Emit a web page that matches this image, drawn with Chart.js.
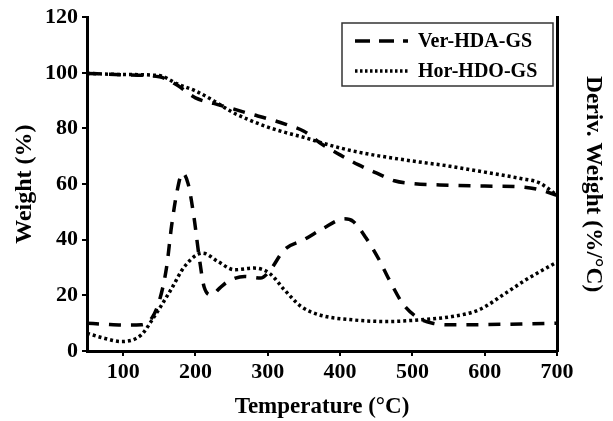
<!DOCTYPE html>
<html>
<head>
<meta charset="utf-8">
<script src="https://cdn.jsdelivr.net/npm/chart.js@4.4.0/dist/chart.umd.min.js"></script>
<style>
    html, body { margin: 0; padding: 0; background: #fff; }
    #wrap { width: 613px; height: 421px; position: relative; }
</style>
</head>
<body>
<div id="wrap"><canvas id="tgaChart"></canvas></div>
<script>
// 温度刻度
const xTicks = [100, 200, 300, 400, 500, 600, 700];

// Ver-HDA-GS 失重曲线 (TGA)
const verTgaTemp = [50, 100, 150, 175, 200, 225, 250, 275, 300, 325, 350, 375, 400, 425, 450, 475, 500, 550, 600, 650, 675, 700];
const verTgaWeight = [99.8, 99.3, 98.6, 95.5, 91, 89, 87.2, 85.3, 83.5, 81.5, 79, 74.3, 70.5, 67, 64, 61.2, 60.2, 59.6, 59.3, 59, 58, 56];

// Hor-HDO-GS 失重曲线 (TGA)
const horTgaTemp = [50, 100, 150, 175, 200, 225, 250, 275, 300, 325, 350, 375, 400, 425, 450, 500, 550, 600, 650, 675, 700];
const horTgaWeight = [99.8, 99.4, 99, 96, 93.5, 90, 86, 83, 80.5, 78.5, 76.8, 74.8, 73, 71.5, 70.3, 68.3, 66.5, 64.3, 62, 60.5, 56];

// Ver-HDA-GS 微分曲线 (DTG)
const verDtgTemp = [50, 75, 100, 125, 140, 150, 160, 167, 175, 182, 190, 198, 205, 212, 222, 235, 245, 268, 290, 302, 323, 350, 376, 406, 418, 436, 454, 468, 486, 505, 528, 555, 600, 650, 700];
const verDtgValue = [10, 9.6, 9.3, 9.4, 12, 18, 30, 45, 58, 64, 60, 48, 34, 23, 20.2, 23, 25, 26.8, 26.2, 28.6, 36.4, 40, 44, 47.5, 46.6, 40.6, 32.8, 25.6, 17.3, 12.4, 10, 9.4, 9.5, 9.7, 10];

// Hor-HDO-GS 微分曲线 (DTG)
const horDtgTemp = [50, 75, 97, 125, 143, 166, 185, 210, 231, 254, 281, 302, 323, 346, 371, 417, 464, 510, 555, 592, 629, 657, 700];
const horDtgValue = [6.4, 4.5, 3.4, 5.8, 12.4, 22, 30.4, 35.2, 32.2, 29.2, 29.8, 28, 22, 16, 13, 11.2, 10.6, 11.2, 12.4, 14.8, 20.8, 25.6, 32];

const seriesNames = ['Ver-HDA-GS', 'Hor-HDO-GS'];

const DASH = [12, 10];
const DOT = [3, 3];
const FONT = 'Liberation Serif, Times New Roman, serif';

function toPoints(xs, ys) {
    return xs.map((x, i) => ({ x: x, y: ys[i] }));
}

function lineSet(label, xs, ys, dash, showInLegend) {
    return {
        label: label,
        data: toPoints(xs, ys),
        borderColor: '#000',
        backgroundColor: '#000',
        borderWidth: 3.5,
        borderDash: dash,
        borderCapStyle: 'butt',
        pointRadius: 0,
        cubicInterpolationMode: 'monotone',
        fill: false,
        inLegend: showInLegend
    };
}

// 图例（带边框，画在绘图区右上角）
const boxLegend = {
    id: 'boxLegend',
    afterDraw(chart) {
        const ctx = chart.ctx;
        const left = 342, top = 23, w = 211, h = 63;
        ctx.save();
        ctx.setLineDash([]);
        ctx.lineWidth = 1.5;
        ctx.strokeStyle = '#333';
        ctx.strokeRect(left, top, w, h);
        const rows = chart.data.datasets.filter(d => d.inLegend);
        rows.forEach((ds, i) => {
            const y = top + 18 + i * 30;
            ctx.beginPath();
            ctx.lineWidth = ds.borderWidth;
            ctx.setLineDash(ds.label === seriesNames[0] ? [15, 9] : [2.5, 2.5]);
            ctx.moveTo(355, y);
            ctx.lineTo(408, y);
            ctx.strokeStyle = '#000';
            ctx.stroke();
            ctx.setLineDash([]);
            ctx.fillStyle = '#000';
            ctx.font = 'bold 20px ' + FONT;
            ctx.textBaseline = 'middle';
            ctx.fillText(ds.label, 418, y + 1);
        });
        ctx.restore();
    }
};

const ctx = document.getElementById('tgaChart').getContext('2d');
const tgaChart = new Chart(ctx, {
    type: 'line',
    data: {
        datasets: [
            lineSet(seriesNames[0], verTgaTemp, verTgaWeight, DASH, true),
            lineSet(seriesNames[1], horTgaTemp, horTgaWeight, DOT, true),
            lineSet(seriesNames[0] + ' DTG', verDtgTemp, verDtgValue, DASH, false),
            lineSet(seriesNames[1] + ' DTG', horDtgTemp, horDtgValue, DOT, false)
        ]
    },
    options: {
        responsive: true,
        maintainAspectRatio: false,
        animation: false,
        layout: {
            padding: { top: 13 }
        },
        plugins: {
            legend: { display: false },
            tooltip: { enabled: false }
        },
        scales: {
            x: {
                type: 'linear',
                min: 50,
                max: 700,
                afterBuildTicks: scale => {
                    scale.ticks = xTicks.map(v => ({ value: v }));
                },
                afterFit: scale => { scale.height = 70; },
                grid: {
                    drawOnChartArea: false,
                    drawTicks: true,
                    tickLength: 5,
                    color: '#000',
                    lineWidth: 2
                },
                border: { display: true, color: '#000', width: 3 },
                ticks: {
                    color: '#000',
                    padding: 3,
                    maxRotation: 0,
                    font: { family: FONT, size: 22, weight: 'bold' }
                },
                title: {
                    display: true,
                    text: 'Temperature (\u00B0C)',
                    color: '#000',
                    padding: { top: 0, bottom: 0 },
                    font: { family: FONT, size: 23, weight: 'bold' }
                }
            },
            y: {
                min: 0,
                max: 120,
                afterFit: scale => { scale.width = 87; },
                grid: {
                    drawOnChartArea: false,
                    drawTicks: true,
                    tickLength: 5,
                    color: '#000',
                    lineWidth: 2
                },
                border: { display: true, color: '#000', width: 3 },
                ticks: {
                    stepSize: 20,
                    color: '#000',
                    padding: 4,
                    font: { family: FONT, size: 22, weight: 'bold' }
                },
                title: {
                    display: true,
                    text: 'Weight (%)',
                    color: '#000',
                    padding: { top: 10, bottom: 0 },
                    font: { family: FONT, size: 24, weight: 'bold' }
                }
            },
            y2: {
                position: 'right',
                min: 0,
                max: 120,
                afterFit: scale => { scale.width = 56; },
                grid: { display: false, drawTicks: false },
                border: { display: true, color: '#000', width: 3 },
                ticks: { display: false },
                title: {
                    display: true,
                    text: 'Deriv. Weight (%/\u00B0C)',
                    color: '#000',
                    padding: { top: 6, bottom: 0 },
                    font: { family: FONT, size: 23.5, weight: 'bold' }
                }
            }
        }
    },
    plugins: [boxLegend]
});
</script>
</body>
</html>
